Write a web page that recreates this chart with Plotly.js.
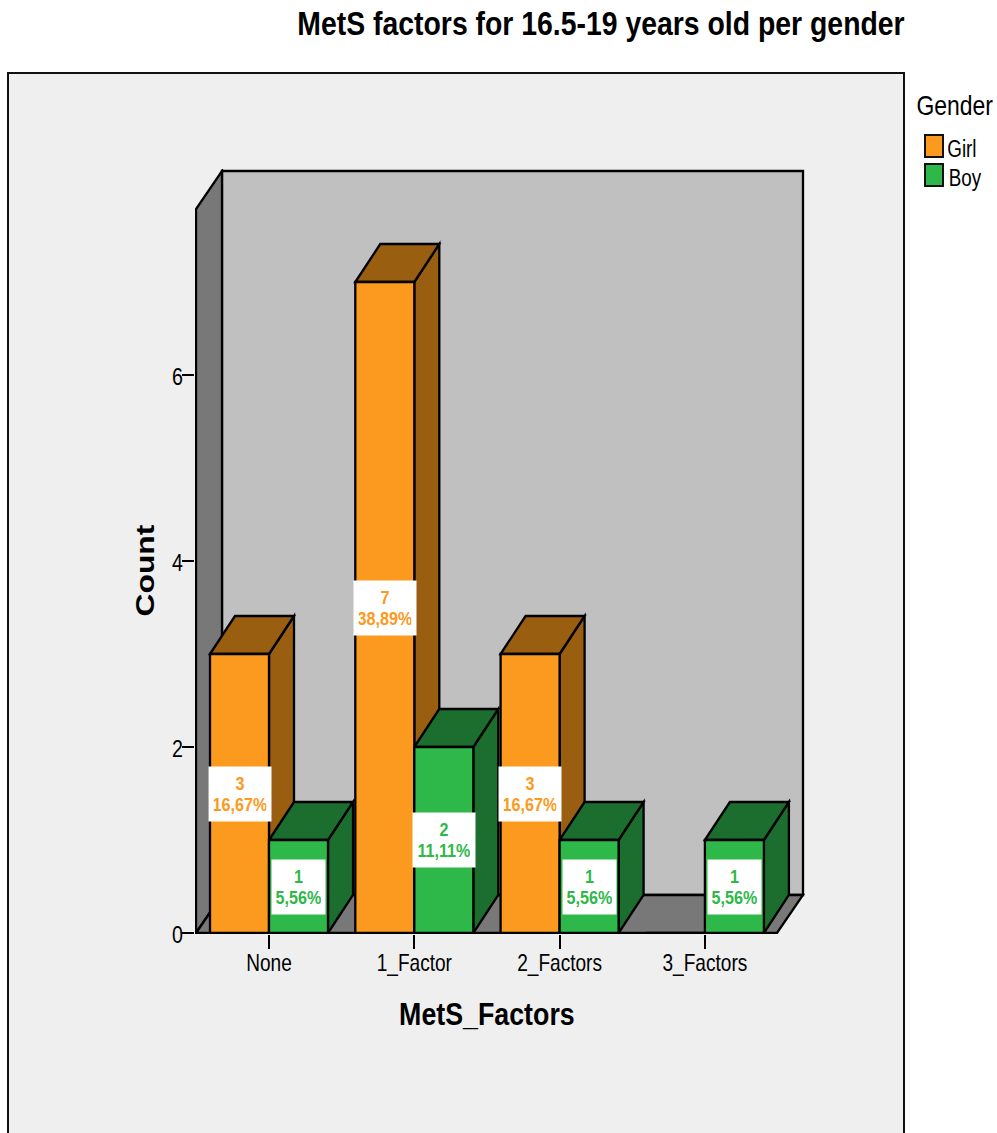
<!DOCTYPE html>
<html>
<head>
<meta charset="utf-8">
<script src="https://cdn.plot.ly/plotly-3.0.1.min.js"></script>
<style>html,body{margin:0;padding:0;background:#fff}#chart{width:997px;height:1133px}</style>
</head>
<body>
<div id="chart"></div>
<script>
// Counts per MetS factor group and gender
const categories = ['None', '1_Factor', '2_Factors', '3_Factors'];
const girlCounts = [3, 7, 3, 0];
const boyCounts = [1, 2, 1, 1];
const yTicks = [0, 2, 4, 6];
const respondents = 18;

const GIRL = '#fb9a1e', GIRL_DARK = '#995e10';
const BOY = '#2fb84a', BOY_DARK = '#1c6e2f';
const WALL = '#787878', BACK = '#c0c0c0', PANEL = '#efefef', INK = '#000';
const SANS = '"Liberation Sans", Arial, sans-serif';
const EDGE = 2.3;

// Plot area in page pixels, and the data scale inside it
const W = 997, H = 1133;
const L = 195, R = 805, T = 169, B = 934;
const pxPerCat = 145.3, pxPerCount = 93, originX = 269, originY = 933;
const barW = 59 / pxPerCat;
const depthX = 25 / pxPerCat, depthY = 38 / pxPerCount;
const roomDepthX = 26 / pxPerCat;
const xRange = [(L - originX) / pxPerCat, (R - originX) / pxPerCat];
const yRange = [(originY - B) / pxPerCount, (originY - T) / pxPerCount];

// Page pixel to paper fraction, for the panel and the key
const paperX = px => (px - L) / (R - L);
const paperY = py => (B - py) / (B - T);

function poly(pts, fill) {
  return {
    type: 'path', xref: 'x', yref: 'y', layer: 'below',
    path: 'M' + pts.map(p => p[0] + ',' + p[1]).join('L') + 'Z',
    fillcolor: fill, line: {color: INK, width: EDGE}
  };
}

// Side and top faces of one box, derived from its count
function boxFaces(x0, v, dark) {
  if (!v) return [];
  const x1 = x0 + barW;
  return [
    poly([[x1, 0], [x1 + depthX, depthY], [x1 + depthX, v + depthY], [x1, v]], dark),
    poly([[x0, v], [x0 + depthX, v + depthY], [x1 + depthX, v + depthY], [x1, v]], dark)
  ];
}

// Room: back wall, left wall, floor
const wallLeft = (196 - originX) / pxPerCat;
const floorRight = (777 - originX) / pxPerCat;
const wallTop = 7.785;
const shapes = [
  {type: 'rect', xref: 'paper', yref: 'paper', layer: 'below',
   x0: paperX(8), x1: paperX(904), y0: paperY(1160), y1: paperY(73),
   fillcolor: PANEL, line: {color: '#111', width: 2}},
  poly([[wallLeft + roomDepthX, depthY], [wallLeft + roomDepthX, wallTop + depthY],
        [floorRight + roomDepthX, wallTop + depthY], [floorRight + roomDepthX, depthY]], BACK),
  poly([[wallLeft, 0], [wallLeft, wallTop], [wallLeft + roomDepthX, wallTop + depthY], [wallLeft + roomDepthX, depthY]], WALL),
  poly([[wallLeft, 0], [wallLeft + roomDepthX, depthY], [floorRight + roomDepthX, depthY], [floorRight, 0]], WALL)
];
categories.forEach((c, i) => {
  shapes.push(...boxFaces(i - barW, girlCounts[i], GIRL_DARK));
  shapes.push(...boxFaces(i, boyCounts[i], BOY_DARK));
});

// Key swatches
[[GIRL, 135, 157], [BOY, 164, 186]].forEach(s => shapes.push({
  type: 'rect', xref: 'paper', yref: 'paper',
  x0: paperX(925), x1: paperX(943), y0: paperY(s[2]), y1: paperY(s[1]),
  fillcolor: s[0], line: {color: '#111', width: 2}
}));

const pct = v => (v / respondents * 100).toFixed(2).replace('.', ',') + '%';

function valueLabels(counts, offset, color) {
  return counts.map((v, i) => v ? {
    x: i + offset, y: v / 2, xref: 'x', yref: 'y', showarrow: false,
    text: v + '<br>' + pct(v), align: 'center', valign: 'middle',
    width: pct(v).length > 5 ? 62 : 53, height: 54,
    bgcolor: '#fff', borderpad: 0,
    font: {family: SANS, size: 19, color: color, weight: 'bold'}
  } : null).filter(Boolean);
}

function pageText(text, px, py, size, extra) {
  return Object.assign({
    text: text, x: paperX(px), y: paperY(py), xref: 'paper', yref: 'paper',
    showarrow: false, xanchor: 'center', yanchor: 'middle',
    font: {family: SANS, size: size, color: '#000'}
  }, extra || {});
}

const annotations = [
  ...valueLabels(girlCounts, -barW / 2, GIRL),
  ...valueLabels(boyCounts, barW / 2, BOY),
  pageText('<b>MetS_Factors</b>', 487, 1014, 32),
  pageText('<b>Count</b>', 144, 571, 28, {textangle: -90}),
  pageText('Gender', 954, 105, 28),
  pageText('Girl', 962.5, 149, 23),
  pageText('Boy', 964.5, 178, 23)
];

const traces = [
  {type: 'bar', name: 'Girl', x: categories.map((c, i) => i), y: girlCounts,
   marker: {color: GIRL, line: {color: INK, width: EDGE}}},
  {type: 'bar', name: 'Boy', x: categories.map((c, i) => i), y: boyCounts,
   marker: {color: BOY, line: {color: INK, width: EDGE}}}
];

const layout = {
  width: W, height: H,
  margin: {l: L, r: W - R, t: T, b: H - B, pad: 0},
  paper_bgcolor: '#fff', plot_bgcolor: 'rgba(0,0,0,0)',
  showlegend: false,
  barmode: 'group', bargap: 1 - 2 * barW, bargroupgap: 0,
  title: {
    text: '<b>MetS factors for 16.5-19 years old per gender</b>',
    x: 601 / W, xanchor: 'center', y: 1 - 23 / H, yanchor: 'middle',
    font: {family: SANS, size: 34, color: '#000'}
  },
  xaxis: {
    type: 'linear', range: xRange, tickmode: 'array',
    tickvals: categories.map((c, i) => i), ticktext: categories,
    showgrid: false, zeroline: false, showline: false,
    ticks: 'outside', ticklen: 14, tickwidth: 2, tickcolor: INK,
    ticklabelstandoff: -6,
    tickfont: {family: SANS, size: 23, color: '#000'}
  },
  yaxis: {
    range: yRange, tickmode: 'array', tickvals: yTicks,
    showgrid: false, zeroline: false, showline: false,
    ticks: 'outside', ticklen: 12, tickwidth: 2, tickcolor: INK,
    ticklabelstandoff: -7,
    tickfont: {family: SANS, size: 24, color: '#000'}
  },
  shapes: shapes,
  annotations: annotations
};

// Squeeze or stretch a text element about its own centre, in its local frame
function rescale(el, sx, sy, dy) {
  const b = el.getBBox(), cx = b.x + b.width / 2, cy = b.y + b.height / 2;
  const base = el.getAttribute('transform') || '';
  el.setAttribute('transform',
    `${base} translate(${cx},${cy + (dy || 0)}) scale(${sx},${sy}) translate(${-cx},${-cy})`);
}

// The typeface is set condensed throughout
function condenseText(gd) {
  gd.querySelectorAll('.xtick text').forEach(t => rescale(t, 0.83, 1));
  gd.querySelectorAll('.ytick text').forEach(t => rescale(t, 0.82, 1, 2));
  gd.querySelectorAll('.gtitle').forEach(t => rescale(t, 0.835, 1));
  gd.querySelectorAll('.annotation-text').forEach(t => {
    const lines = t.querySelectorAll('tspan.line');
    const s = t.textContent;
    if (lines.length === 2) {
      // Two-line value labels: tighter leading, narrower glyphs
      lines[0].setAttribute('y', parseFloat(lines[0].getAttribute('y')) + 1.9);
      lines[1].setAttribute('y', parseFloat(lines[1].getAttribute('y')) - 1.9);
      rescale(t, 0.85, 1);
    } else if (s === 'Count') {
      rescale(t, 1.135, 0.95);
    } else if (s === 'MetS_Factors') {
      rescale(t, 0.837, 1);
    } else {
      rescale(t, 0.82, 1);
    }
  });
}

Plotly.newPlot('chart', traces, layout, {displayModeBar: false, responsive: false})
  .then(condenseText);
</script>
</body>
</html>
